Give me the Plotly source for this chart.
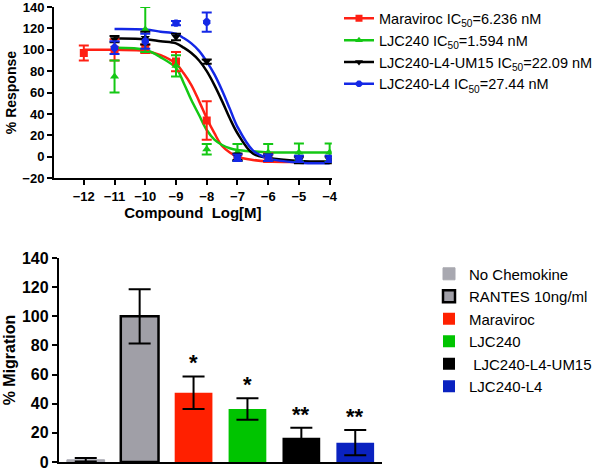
import plotly.graph_objects as go

# ---------------- Top chart data: dose-response ----------------
series_names = ["Maraviroc IC<sub>50</sub>=6.236 nM", "LJC240 IC<sub>50</sub>=1.594 nM",
                "LJC240-L4-UM15 IC<sub>50</sub>=22.09 nM", "LJC240-L4 IC<sub>50</sub>=27.44 nM"]

mar_x = [-12, -11, -10, -9, -8, -7, -6]
mar_y = [97, 100, 101, 89, 34, -1, -1]
mar_err = [7, 10, 4, 9, 18, 3, 4]

ljc_x = [-11, -10, -9, -8, -7, -6, -5, -4]
ljc_y = [75, 119, 85, 7, 4, 4, 4, 4]
ljc_err = [15, 21, 10, 5, 8, 8, 8.5, 8.5]

um15_x = [-11, -10, -9, -8, -7, -6, -5, -4]
um15_y = [110, 111, 112, 89, 0, -1, -3, -3]
um15_err = [3, 6, 3, 2, 3, 3, 3, 3]

l4_x = [-11, -10, -9, -8, -7, -6, -5, -4]
l4_y = [102, 108, 125, 126, -1, -1, -2, -2]
l4_err = [6, 7, 2, 9, 3, 3, 3, 3]

# fitted curves
fit_x_mar = [-12, -11, -10, -9.5, -9, -8.75, -8.5, -8.25, -8, -7.75, -7.5, -7.25, -7, -6.5, -6, -5, -4]
fit_mar = [100, 100, 99, 95, 87, 78, 67, 52, 36, 22, 10, 4, 0, -3, -4.5, -5, -5]
fit_x = [-11, -10, -9.5, -9, -8.75, -8.5, -8.25, -8, -7.75, -7.5, -7.25, -7, -6.5, -6, -5, -4]
fit_ljc = [102, 100, 93, 83, 69, 53, 39, 25, 16, 11, 8, 6.4, 5, 4, 4, 4]
fit_um15 = [110.5, 110, 108, 106, 102, 97, 90, 80, 67, 52, 36, 22, 3, -1, -4, -4.5]
fit_l4 = [119.5, 119, 117, 115, 111, 106, 99, 89, 77, 62, 45, 28, 6, -1.5, -5.5, -6]

top_xticks = [-12, -11, -10, -9, -8, -7, -6, -5, -4]
top_yticks = [-20, 0, 20, 40, 60, 80, 100, 120, 140]

# ---------------- Bottom chart data: migration ----------------
bar_names = ["No Chemokine", "RANTES 10ng/ml", "Maraviroc", "LJC240", "\u00a0LJC240-L4-UM15", "LJC240-L4"]
bar_vals = [1.5, 100, 47.5, 36.4, 16.7, 13.3]
bar_err = [1.2, 18.6, 11.2, 7.4, 6.8, 8.6]
bar_sig = ["", "", "*", "*", "**", "**"]
bot_yticks = [0, 20, 40, 60, 80, 100, 120, 140]

# ---------------- styles ----------------
FONT = "Arial, Liberation Sans, sans-serif"
top_colors = ["#ff2014", "#14c814", "#000000", "#1428e6"]
top_symbols = ["square", "triangle-up", "triangle-down", "octagon"]
bar_fill = ["#a8a8b0", "#a09fa7", "#ff2000", "#00c400", "#000000", "#0a22c0"]
bar_line = ["#a8a8b0", "#000000", "#ff2000", "#00c400", "#000000", "#0a22c0"]
bar_lw = [1, 2.5, 0, 0, 0, 0]

fig = go.Figure()

pts = [(mar_x, mar_y, mar_err), (ljc_x, ljc_y, ljc_err), (um15_x, um15_y, um15_err), (l4_x, l4_y, l4_err)]
fits = [(fit_x_mar, fit_mar), (fit_x, fit_ljc), (fit_x, fit_um15), (fit_x, fit_l4)]

for i in range(4):
    fx, fy = fits[i]
    fig.add_trace(go.Scatter(x=fx, y=fy, mode="lines", line=dict(color=top_colors[i], width=2.5, shape="spline", smoothing=1.0),
                             showlegend=False, hoverinfo="skip", xaxis="x", yaxis="y"))
for i in range(4):
    px, py, pe = pts[i]
    fig.add_trace(go.Scatter(x=px, y=py, mode="markers",
                             marker=dict(color=top_colors[i], symbol=top_symbols[i], size=8),
                             error_y=dict(type="data", array=pe, color=top_colors[i], thickness=2, width=5),
                             showlegend=False, xaxis="x", yaxis="y"))
for i in range(4):
    fig.add_trace(go.Scatter(x=[None], y=[None], mode="lines+markers", name=series_names[i],
                             line=dict(color=top_colors[i], width=2.5),
                             marker=dict(color=top_colors[i], symbol=top_symbols[i], size=7),
                             legend="legend", xaxis="x", yaxis="y"))

for i in range(6):
    fig.add_trace(go.Bar(x=[bar_names[i]], y=[bar_vals[i]], name=bar_names[i], width=0.7,
                         marker=dict(color=bar_fill[i], line=dict(color=bar_line[i], width=bar_lw[i])),
                         error_y=dict(type="data", array=[bar_err[i]], color="black", thickness=2, width=11),
                         legend="legend2", xaxis="x2", yaxis="y2"))

for i in range(6):
    if bar_sig[i]:
        fig.add_annotation(x=bar_names[i], y=bar_vals[i] + bar_err[i], text="<b>" + bar_sig[i] + "</b>",
                           xref="x2", yref="y2", showarrow=False, yanchor="bottom", yshift=-1,
                           font=dict(family=FONT, size=22, color="black"))

axis_common = dict(showline=True, linecolor="black", linewidth=2, showgrid=False, zeroline=False,
                   ticks="outside", tickcolor="black", tickwidth=2, ticklen=5, automargin=False,
                   ticklabeloverflow="allow")

fig.update_layout(
    width=600, height=470, margin=dict(l=0, r=0, t=0, b=0, autoexpand=False),
    paper_bgcolor="white", plot_bgcolor="white",
    font=dict(family=FONT, color="black"),
    barmode="overlay",
    xaxis=dict(domain=[0.09, 0.553], range=[-12.97, -3.93], tickvals=top_xticks, anchor="y",
               tickfont=dict(size=13, weight="bold"),
               title=dict(text="Compound\u00a0\u00a0Log[M]", font=dict(size=15, weight="bold"), standoff=2),
               **axis_common),
    yaxis=dict(domain=[0.621, 0.985], range=[-20, 140], tickvals=top_yticks, anchor="x",
               tickfont=dict(size=13, weight="bold"),
               title=dict(text="% Response", font=dict(size=14, weight="bold"), standoff=2),
               **axis_common),
    xaxis2=dict(domain=[0.098, 0.637], range=[-0.5, 5.5], anchor="y2", showticklabels=False,
                showline=True, linecolor="black", linewidth=2, showgrid=False, zeroline=False, ticks="",
                automargin=False),
    yaxis2=dict(domain=[0.017, 0.451], range=[0, 140], tickvals=bot_yticks, anchor="x2",
                tickfont=dict(size=16, weight="bold"),
                title=dict(text="% Migration", font=dict(size=16, weight="bold"), standoff=2),
                **axis_common),
    legend=dict(x=0.565, y=0.995, xanchor="left", yanchor="top", font=dict(size=14.5), bgcolor="rgba(0,0,0,0)",
                tracegroupgap=0),
    legend2=dict(x=0.715, y=0.452, xanchor="left", yanchor="top", font=dict(size=15), bgcolor="rgba(0,0,0,0)"),
)

fig.write_html("out.html", config={"displayModeBar": False},
               post_script="document.body.style.margin='0';")
